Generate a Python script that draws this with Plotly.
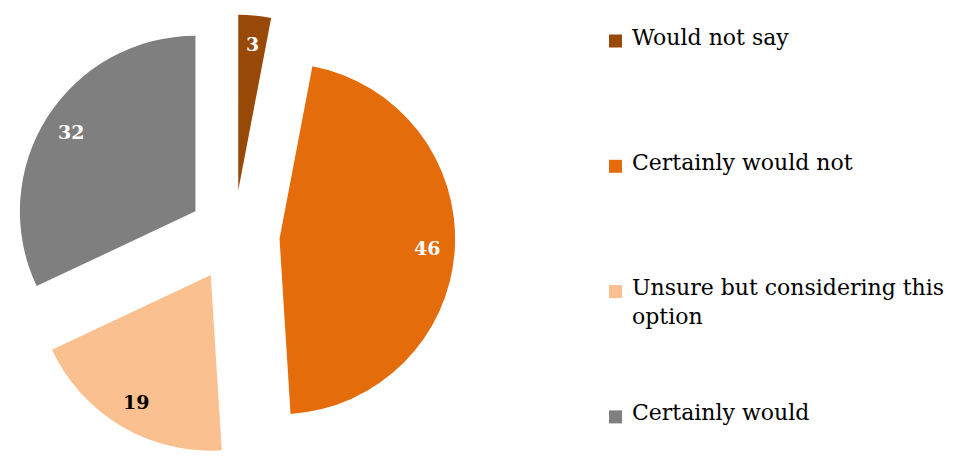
import math
import plotly.graph_objects as go

# Survey answers and their shares (percent)
labels = ["Would not say", "Certainly would not",
          "Unsure but considering this option", "Certainly would"]
values = [3, 46, 19, 32]

# Slice palette and the colour of the number printed on each slice
slice_colors = ["#984807", "#E46C0A", "#FAC090", "#7F7F7F"]
value_text_colors = ["white", "white", "black", "white"]

W, H = 956, 457
FONT = "DejaVu Serif"
PULL = 0.26
DOM_X = [0.0, 0.4895]
DOM_Y = [0.0, 0.968]
LABEL_R = 0.84          # label distance from the slice tip, as a fraction of r

fig = go.Figure(go.Pie(
    labels=labels,
    values=values,
    sort=False,
    direction="clockwise",
    rotation=0,
    pull=PULL,
    marker=dict(colors=slice_colors, line=dict(width=0)),
    textinfo="none",
    hoverinfo="label+value",
    domain=dict(x=DOM_X, y=DOM_Y),
    showlegend=False,
))

# Pie geometry in pixels, following plotly's own pie layout rule
dom_w = W * (DOM_X[1] - DOM_X[0])
dom_h = H * (DOM_Y[1] - DOM_Y[0])
r = min(dom_w, dom_h) / 2 / (1 + PULL)
cx = W * (DOM_X[0] + DOM_X[1]) / 2
cy = H * (1 - DOM_Y[0]) - dom_h / 2

annotations = []
shapes = []

# Value labels, placed along each slice's bisector
total = sum(values)
cum = 0.0
for v, tc in zip(values, value_text_colors):
    mid = math.radians((cum + v / 2) / total * 360.0)
    cum += v
    dist = (PULL + LABEL_R) * r
    px = cx + dist * math.sin(mid)
    py = cy - dist * math.cos(mid)
    annotations.append(dict(
        x=px / W, y=1 - py / H, xref="paper", yref="paper",
        text=f"<b>{v}</b>", showarrow=False,
        xanchor="center", yanchor="middle",
        font=dict(family=FONT, size=19, color=tc),
    ))

# Legend on the right: coloured square + wrapped caption per answer
LEG_X0, LEG_SQ = 609, 13
LEG_Y0, LEG_STEP = 41, 125.3
TEXT_X = 630
LEG_FONT = 22


def wrap(text, width=30):
    words, lines, cur = text.split(), [], ""
    for w_ in words:
        cand = (cur + " " + w_).strip()
        if len(cand) > width and cur:
            lines.append(cur)
            cur = w_
        else:
            cur = cand
    lines.append(cur)
    return "<br>".join(lines)


for i, (lab, col) in enumerate(zip(labels, slice_colors)):
    yc = LEG_Y0 + i * LEG_STEP
    shapes.append(dict(
        type="rect", xref="paper", yref="paper",
        x0=LEG_X0 / W, x1=(LEG_X0 + LEG_SQ) / W,
        y0=1 - (yc + LEG_SQ / 2) / H, y1=1 - (yc - LEG_SQ / 2) / H,
        fillcolor=col, line=dict(width=0),
    ))
    annotations.append(dict(
        x=TEXT_X / W, y=1 - (yc - 18.5) / H, xref="paper", yref="paper",
        text=wrap(lab), showarrow=False, align="left",
        xanchor="left", yanchor="top",
        font=dict(family=FONT, size=LEG_FONT, color="#000000"),
    ))

fig.update_layout(
    width=W, height=H,
    margin=dict(l=0, r=0, t=0, b=0),
    paper_bgcolor="white",
    plot_bgcolor="white",
    annotations=annotations,
    shapes=shapes,
)

fig.write_html("out.html")
